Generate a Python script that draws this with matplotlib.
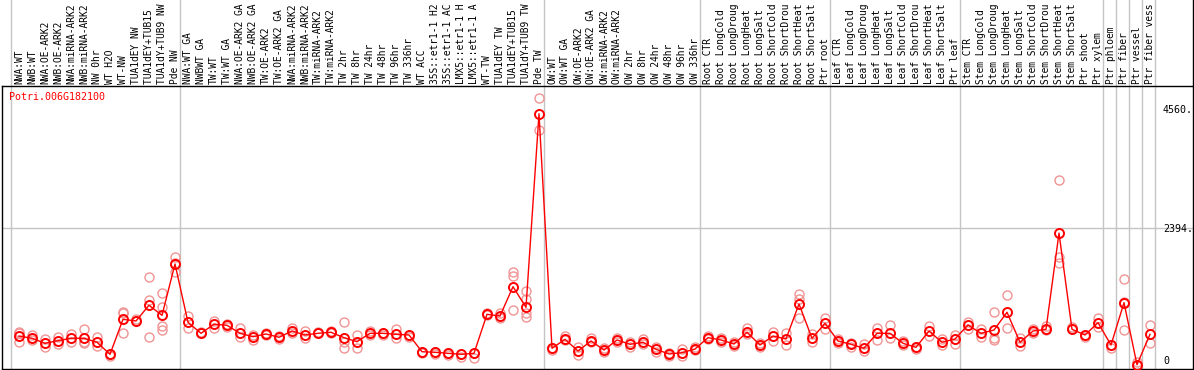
#!/usr/bin/env python
# -*- coding: utf-8 -*-

# Expression profile of one poplar gene across all samples,
# mean values as red line with single replicates as light circles.

import matplotlib
matplotlib.use('Agg')
import matplotlib.pyplot as plt
import matplotlib.transforms as mtransforms

########################################
## Data                               ##
########################################

gen_name = 'Potri.006G182100'

proben = [
    'NWA:WT', 'NWB:WT', 'NWA:OE-ARK2', 'NWB:OE-ARK2', 'NWA:miRNA-ARK2',
    'NWB:miRNA-ARK2', 'NW 0hr', 'WT H2O', 'WT-NW', 'TUA1dEY NW',
    'TUA1dEY+TUB15 NW', 'TUA1dY+TUB9 NW', 'Pde NW',
    'NWA:WT GA', 'NWBWT GA', 'TW:WT', 'TW:WT GA', 'NWA:OE-ARK2 GA',
    'NWB:OE-ARK2 GA', 'TW:OE-ARK2', 'TW:OE-ARK2 GA', 'NWA:miRNA-ARK2 GA',
    'NWB:miRNA-ARK2 GA', 'TW:miRNA-ARK2', 'TW:miRNA-ARK2 GA', 'TW 2hr',
    'TW 8hr', 'TW 24hr', 'TW 48hr', 'TW 96hr', 'TW 336hr', 'WT ACC',
    '35S::etr1-1 H2O', '35S::etr1-1 ACC', 'LMX5::etr1-1 H2O',
    'LMX5::etr1-1 ACC', 'WT-TW', 'TUA1dEY TW', 'TUA1dEY+TUB15 TW',
    'TUA1dY+TUB9 TW', 'Pde TW',
    'OW:WT', 'OW:WT GA', 'OW:OE-ARK2', 'OW:OE-ARK2 GA', 'OW:miRNA-ARK2',
    'OW:miRNA-ARK2 GA', 'OW 2hr', 'OW 8hr', 'OW 24hr', 'OW 48hr', 'OW 96hr',
    'OW 336hr',
    'Root CTR', 'Root LongCold', 'Root LongDrought', 'Root LongHeat',
    'Root LongSalt', 'Root ShortCold', 'Root ShortDrought', 'Root ShortHeat',
    'Root ShortSalt', 'Ptr root',
    'Leaf CTR', 'Leaf LongCold', 'Leaf LongDrought', 'Leaf LongHeat',
    'Leaf LongSalt', 'Leaf ShortCold', 'Leaf ShortDrought', 'Leaf ShortHeat',
    'Leaf ShortSalt', 'Ptr leaf',
    'Stem CTR', 'Stem LongCold', 'Stem LongDrought', 'Stem LongHeat',
    'Stem LongSalt', 'Stem ShortCold', 'Stem ShortDrought', 'Stem ShortHeat',
    'Stem ShortSalt', 'Ptr shoot', 'Ptr xylem',
    'Ptr phloem', 'Ptr fiber', 'Ptr vessel', 'Ptr fiber vessel',
]

mittelwerte = [
    526, 485, 394, 441, 485, 485, 412, 194, 829, 799,
    1084, 902, 1833, 775, 575, 739, 721, 575, 514, 563,
    503, 617, 545, 575, 594, 496, 423, 575, 575, 557,
    545, 241, 231, 212, 194, 212, 920, 889, 1421, 1047,
    4560, 303, 466, 254, 436, 272, 454, 376, 412, 285,
    200, 223, 290, 496, 454, 381, 594, 363, 526, 472,
    1107, 485, 757, 436, 376, 303, 575, 575, 394, 321,
    617, 412, 472, 726, 575, 635, 957, 412, 617, 648,
    2394, 648, 545, 768, 363, 1131, 5, 557,
]

replikate = [
    [604, 423, 575], [545, 454], [466, 332], [514, 381], [563, 423],
    [648, 423, 394], [514, 350], [194, 163], [967, 938, 575], [799, 835],
    [1592, 1180, 514], [1301, 1047, 708, 635], [1955, 1693, 1850], [895, 666], [604, 575],
    [804, 677], [739, 695], [666, 514], [545, 454], [575, 545],
    [526, 477], [666, 586], [623, 485], [575, 594], [623, 575],
    [775, 303, 423], [545, 314], [623, 545], [575, 545], [648, 496],
    [545, 514], [241, 223], [231, 200], [212, 182], [194, 151],
    [212, 133], [949, 908], [938, 848], [1693, 1615, 998], [1349, 1192, 949, 866],
    [4846, 4265], [303, 272], [526, 454], [332, 182], [496, 423],
    [303, 241], [485, 423], [423, 332], [472, 381], [241, 321],
    [223, 163], [290, 163], [321, 272], [526, 466], [496, 423],
    [412, 345], [666, 557], [394, 332], [604, 441], [586, 363],
    [1289, 1192, 848], [557, 423], [848, 648], [466, 405], [332, 405],
    [381, 254], [666, 454], [726, 496], [441, 363], [321, 285],
    [708, 526], [466, 363], [545, 381], [786, 648], [648, 514],
    [957, 496, 454], [1271, 666], [485, 350], [648, 575], [708, 635],
    [3358, 1955, 1857], [695, 648], [545, 508], [859, 695], [363, 303],
    [1555, 1149, 635], [54, 0], [726, 405],
]

# first sample of every block (grey separator lines)
gruppen_start = [0, 13, 41, 53, 63, 73, 84, 85, 86, 87, 88]

# values written on the right side
achsen_werte = [4560, 2394, 0]

# the label strip only has room for 14 characters
max_zeichen = 14

########################################
## Figure layout                      ##
########################################

B, H = 1194, 370
fig = plt.figure(figsize=(B / 100, H / 100), dpi=100, facecolor='white')
ax_lab = fig.add_axes([2 / B, 284 / H, 1191 / B, 86 / H])
ax = fig.add_axes([2 / B, 1 / H, 1191 / B, 283 / H], sharex=ax_lab)

# 13 px per sample, 18.15 expression units per px
ax.set_xlim(-17 / 13, 1174 / 13)
ax.set_ylim(-4 * 18.15, 279 * 18.15)

for a in (ax, ax_lab):
    a.set_xticks([])
    a.set_yticks([])
    a.patch.set_alpha(0)
for s in ax.spines.values():
    s.set_color('black')
    s.set_linewidth(1)
for name in ('top', 'left', 'bottom'):
    ax_lab.spines[name].set_visible(False)
ax_lab.spines['right'].set_linewidth(1)

mono = 'DejaVu Sans Mono'

# grey separators run through label area and plot
for g in gruppen_start:
    for a in (ax, ax_lab):
        a.axvline(g - 0.6, color='#c4c4c4', lw=1, zorder=0)

# horizontal grey line just above the second value
offset = mtransforms.ScaledTranslation(0, 5 / 100, fig.dpi_scale_trans)
gl = ax.axhline(achsen_werte[1], color='#c4c4c4', lw=1, zorder=0)
gl.set_transform(ax.get_yaxis_transform(which='grid') + offset)

########################################
## Sample names (vertical)            ##
########################################

lab_trans = mtransforms.blended_transform_factory(ax_lab.transData, ax_lab.transAxes)
for i, name in enumerate(proben):
    ax_lab.text(i, 2 / 86, name[:max_zeichen], transform=lab_trans, rotation=90,
                ha='center', va='bottom', fontsize=6.9, family=mono,
                color='black')

########################################
## Data                               ##
########################################

for i, reps in enumerate(replikate):
    ax.plot([i] * len(reps), reps, 'o', mfc='none', mec='#f09494',
            ms=6.5, mew=1, zorder=2, clip_on=False)

x = list(range(len(mittelwerte)))
ax.plot(x, mittelwerte, color='red', lw=1, zorder=3)
ax.plot(x, mittelwerte, 'o', mfc='none', mec='red', ms=6.5, mew=1.4,
        zorder=4, clip_on=False)

# gene name in the upper left corner
ax.text(7 / 1191, 1 - 11 / 283, gen_name, transform=ax.transAxes,
        color='red', fontsize=7.2, family=mono, ha='left', va='center')

# values on the right side
wert_trans = mtransforms.blended_transform_factory(ax.transAxes, ax.transData)
text_offset = mtransforms.ScaledTranslation(0, 4 / 100, fig.dpi_scale_trans)
for w in achsen_werte:
    txt = '0' if w == 0 else f'{w}.'
    ax.text(1161 / 1191, w, txt, transform=wert_trans + text_offset,
            fontsize=7.2, family=mono, ha='left', va='center', color='black')

fig.savefig('out.png', dpi=100, facecolor='white')
